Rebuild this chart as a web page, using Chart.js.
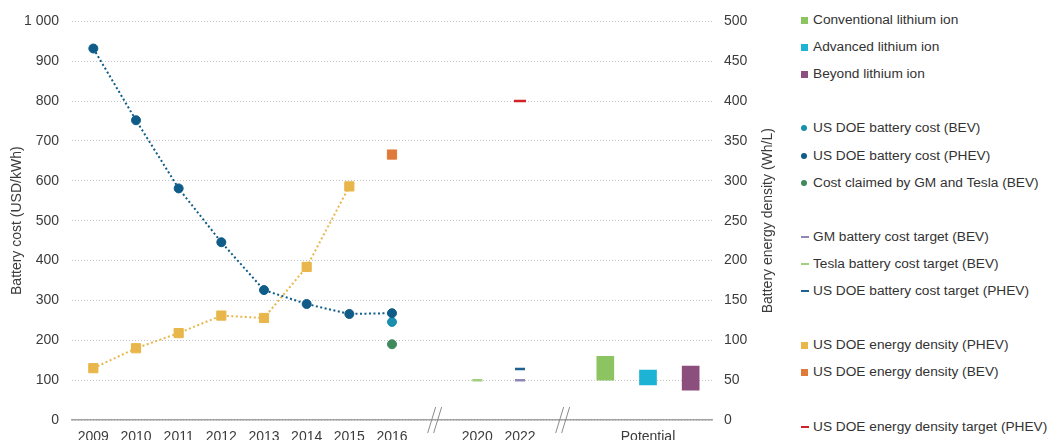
<!DOCTYPE html>
<html>
<head>
<meta charset="utf-8">
<script src="https://cdn.jsdelivr.net/npm/chart.js@4/dist/chart.umd.min.js"></script>
<style>
  html, body { margin: 0; padding: 0; background: #fff; overflow: hidden; }
  #wrap { position: relative; width: 1050px; height: 440px; }
  #ch { position: absolute; left: 0; top: 0; }
  #legend { position: absolute; left: 0; top: 0; font-family: "Liberation Sans", sans-serif; font-size: 13.7px; color: #333; }
  .row { position: absolute; left: 801px; height: 18px; line-height: 18px; white-space: nowrap; }
  .mk { position: absolute; left: 0; }
  .tx { position: absolute; left: 12px; top: 0; }
</style>
</head>
<body>
<div id="wrap">
  <canvas id="ch" width="778" height="460"></canvas>
  <div id="legend"></div>
</div>
<script>
const categories = ['2009', '2010', '2011', '2012', '2013', '2014', '2015', '2016', '', '2020', '2022', '', '', 'Potential', ''];

// battery cost, USD/kWh (left axis)
const doeCostPhev   = [932, 752, 581, 446, 326, 291, 266, 268, null, null, null, null, null, null, null];
const doeCostBev    = [null, null, null, null, null, null, null, 246, null, null, null, null, null, null, null];
const gmTeslaCost   = [null, null, null, null, null, null, null, 190, null, null, null, null, null, null, null];
const gmTarget      = [null, null, null, null, null, null, null, null, null, null, 100, null, null, null, null];
const teslaTarget   = [null, null, null, null, null, null, null, null, null, 100, null, null, null, null, null];
const doeCostTarget = [null, null, null, null, null, null, null, null, null, null, 128, null, null, null, null];

// potential cost ranges, USD/kWh (left axis)
const conventionalRange = [null, null, null, null, null, null, null, null, null, null, null, null, [100, 160], null, null];
const advancedRange     = [null, null, null, null, null, null, null, null, null, null, null, null, null, [88, 125], null];
const beyondRange       = [null, null, null, null, null, null, null, null, null, null, null, null, null, null, [75, 135]];

// energy density, Wh/L (right axis)
const densityPhev   = [65, 90, 109, 131, 128, 192, 293, null, null, null, null, null, null, null, null];
const densityBev    = [null, null, null, null, null, null, null, 333, null, null, null, null, null, null, null];
const densityTarget = [null, null, null, null, null, null, null, null, null, null, 400, null, null, null, null];

const costTicks = { min: 0, max: 1000, step: 100 };
const densityTicks = { min: 0, max: 500, step: 50 };
const breakAt = [8, 11];

const legendRows = [
  'Conventional lithium ion', 'Advanced lithium ion', 'Beyond lithium ion', '',
  'US DOE battery cost (BEV)', 'US DOE battery cost (PHEV)', 'Cost claimed by GM and Tesla (BEV)', '',
  'GM battery cost target (BEV)', 'Tesla battery cost target (BEV)', 'US DOE battery cost target (PHEV)', '',
  'US DOE energy density (PHEV)', 'US DOE energy density (BEV)', '',
  'US DOE energy density target (PHEV)'
];

const textColor = '#3b3b3b';
const fontFamily = '"Liberation Sans", sans-serif';
Chart.defaults.font.family = fontFamily;
Chart.defaults.font.size = 14;
Chart.defaults.color = textColor;

function rangeBar(label, data, color) {
  return { type: 'bar', label: label, data: data, backgroundColor: color, borderWidth: 0,
           barThickness: 17, grouped: false, yAxisID: 'y' };
}

function dots(label, data, color, axis, style, radius) {
  return { type: 'line', label: label, data: data, showLine: false, yAxisID: axis,
           pointStyle: style, pointRadius: radius, pointBackgroundColor: color,
           pointBorderColor: color, pointBorderWidth: style === 'line' ? 2.5 : 1,
           borderColor: color, backgroundColor: color };
}

function dottedLine(label, data, color, axis, style, radius) {
  const d = dots(label, data, color, axis, style, radius);
  d.showLine = true;
  d.borderWidth = 2;
  d.borderDash = [2, 2.5];
  d.spanGaps = false;
  return d;
}

const datasets = [
  dottedLine('US DOE battery cost (PHEV)', doeCostPhev, '#0f5c88', 'y', 'circle', 4.5),
  dots('US DOE battery cost (BEV)', doeCostBev, '#1b8fb0', 'y', 'circle', 4.5),
  dots('Cost claimed by GM and Tesla (BEV)', gmTeslaCost, '#3e8a5c', 'y', 'circle', 4.5),
  dots('GM battery cost target (BEV)', gmTarget, '#8d88b4', 'y', 'line', 5),
  dots('Tesla battery cost target (BEV)', teslaTarget, '#9fcf7f', 'y', 'line', 5),
  dots('US DOE battery cost target (PHEV)', doeCostTarget, '#1d6290', 'y', 'line', 5),
  dottedLine('US DOE energy density (PHEV)', densityPhev, '#e9b64b', 'y1', 'rect', 6.5),
  dots('US DOE energy density (BEV)', densityBev, '#e07a3a', 'y1', 'rect', 6.5),
  dots('US DOE energy density target (PHEV)', densityTarget, '#d3202a', 'y1', 'line', 6),
  rangeBar('Conventional lithium ion', conventionalRange, '#8cc462'),
  rangeBar('Advanced lithium ion', advancedRange, '#1db3d5'),
  rangeBar('Beyond lithium ion', beyondRange, '#8c4f7d')
];

// axis break marks and the right title (reads bottom to top like the left one)
const extras = {
  id: 'extras',
  afterDraw(chart) {
    const ctx = chart.ctx;
    const x = chart.scales.x;
    const y0 = chart.chartArea.bottom;
    ctx.save();
    ctx.strokeStyle = '#8a8a8a';
    ctx.lineWidth = 1;
    breakAt.forEach(function (i) {
      const cx = x.getPixelForValue(i);
      [-3, 3].forEach(function (dx) {
        ctx.beginPath();
        ctx.moveTo(cx + dx - 4, y0 + 13);
        ctx.lineTo(cx + dx + 4, y0 - 13);
        ctx.stroke();
      });
    });
    const r = chart.scales.y1;
    ctx.translate(r.right - 10, (chart.chartArea.top + chart.chartArea.bottom) / 2);
    ctx.rotate(-Math.PI / 2);
    ctx.textAlign = 'center';
    ctx.textBaseline = 'middle';
    ctx.font = '14px ' + fontFamily;
    ctx.fillStyle = textColor;
    ctx.fillText('Battery energy density (Wh/L)', 0, 0);
    ctx.restore();
  }
};

const config = {
  type: 'bar',
  data: { labels: categories, datasets: datasets },
  options: {
    responsive: false,
    animation: false,
    layout: { padding: { top: 21, left: 0, right: 0, bottom: 0 } },
    plugins: { legend: { display: false }, tooltip: { enabled: false } },
    scales: {
      x: {
        offset: true,
        grid: { display: false, drawTicks: false },
        border: { display: true, color: '#a3a3a3', width: 1.5 },
        ticks: { autoSkip: false, maxRotation: 0, padding: 9 },
        afterFit: function (s) { s.height = 40; }
      },
      y: {
        position: 'left',
        min: costTicks.min, max: costTicks.max,
        ticks: { stepSize: costTicks.step, padding: 13,
                 callback: function (v) { return String(v).replace(/\B(?=(\d{3})+(?!\d))/g, ' '); } },
        grid: { color: '#c4c4c4', drawTicks: false },
        border: { display: false, dash: [1, 2] },
        title: { display: true, text: 'Battery cost (USD/kWh)', padding: { top: 9, bottom: 0 }, font: { size: 14 } },
        afterFit: function (s) { s.width = 72; }
      },
      y1: {
        position: 'right',
        min: densityTicks.min, max: densityTicks.max,
        ticks: { stepSize: densityTicks.step, padding: 12 },
        grid: { display: false, drawTicks: false },
        border: { display: false },
        afterFit: function (s) { s.width = 66; }
      }
    }
  },
  plugins: [extras]
};

const chart = new Chart(document.getElementById('ch'), config);

function buildLegend(chart) {
  const box = document.getElementById('legend');
  legendRows.forEach(function (name, i) {
    if (!name) return;
    const ds = chart.data.datasets.find(function (d) { return d.label === name; });
    const row = document.createElement('div');
    row.className = 'row';
    row.style.top = (20 + i * 27.1 - 9) + 'px';
    const mk = document.createElement('span');
    mk.className = 'mk';
    const style = ds.type === 'bar' ? 'rect' : ds.pointStyle;
    if (style === 'rect') {
      mk.style.cssText = 'width:7px;height:7px;top:6px;background:' + ds.backgroundColor;
    } else if (style === 'circle') {
      mk.style.cssText = 'width:6px;height:6px;top:6px;border-radius:3px;background:' + ds.backgroundColor;
    } else {
      mk.style.cssText = 'width:8px;height:2px;top:8px;background:' + ds.backgroundColor;
    }
    const tx = document.createElement('span');
    tx.className = 'tx';
    tx.textContent = name;
    row.appendChild(mk);
    row.appendChild(tx);
    box.appendChild(row);
  });
}
buildLegend(chart);
</script>
</body>
</html>
